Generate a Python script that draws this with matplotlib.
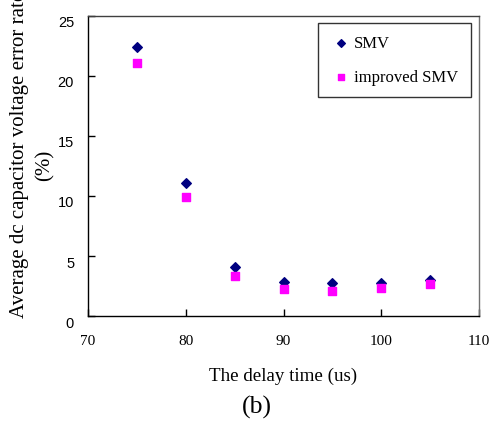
import matplotlib
matplotlib.use("Agg")
import matplotlib.pyplot as plt
import matplotlib.transforms as mtransforms

delay = [75, 80, 85, 90, 95, 100, 105]
smv = [22.4, 11.1, 4.05, 2.83, 2.72, 2.75, 3.03]
improved_smv = [21.1, 9.9, 3.3, 2.22, 2.1, 2.33, 2.67]

serif = "Liberation Serif"
sans = "Liberation Sans"

W, H = 490, 427
fig = plt.figure(figsize=(4.9, 4.27), dpi=100)
ax = fig.add_axes([88 / W, 1 - 317 / H, 391 / W, 300 / H])

ax.scatter(delay, smv, marker="D", s=24, color="#000080", label="SMV", zorder=3)
ax.scatter(delay, improved_smv, marker="s", s=30, color="#FF00FF", label="improved SMV", zorder=3)

ax.set_xlim(70, 110)
ax.set_ylim(0, 25)
ax.set_xticks(range(70, 111, 10))
ax.set_yticks(range(0, 26, 5))
ax.tick_params(direction="in", length=5, width=1)
ax.tick_params(axis="x", pad=13)
ax.tick_params(axis="y", pad=10)
shift = mtransforms.ScaledTranslation(0, -5 / 100, fig.dpi_scale_trans)
for lab in ax.get_xticklabels():
    lab.set_fontfamily(serif)
    lab.set_fontsize(11)
for lab in ax.get_yticklabels():
    lab.set_fontfamily(sans)
    lab.set_fontsize(10.5)
    lab.set_transform(lab.get_transform() + shift)

for s in ax.spines.values():
    s.set_linewidth(1)
ax.spines["top"].set_color("#404040")
ax.spines["right"].set_color("#707070")

ax.set_xlabel("The delay time (us)", fontfamily=serif, fontsize=13.7, labelpad=14)

# y-axis title: long first line (runs off the top edge) and "(%)" below it
fig.text(20 / W, 1 - 155 / H, "Average dc capacitor voltage error rate", fontfamily=serif,
         fontsize=15, rotation=90, ha="center", va="center")
fig.text(45 / W, 1 - 165 / H, "(%)", fontfamily=serif, fontsize=15, rotation=90,
         ha="center", va="center")

leg = ax.legend(loc="upper right", bbox_to_anchor=(0.9795, 0.977), prop={"family": serif, "size": 12},
                frameon=True, fancybox=False, edgecolor="black", handletextpad=0.15,
                markerscale=0.8, labelspacing=1.05, borderpad=0.75, handlelength=1.3,
                borderaxespad=0)
leg.get_frame().set_linewidth(1)

fig.text(257 / W, 1 - 407 / H, "(b)", fontfamily=serif, fontsize=18.5, ha="center", va="center")

fig.savefig("out.png", dpi=100)
